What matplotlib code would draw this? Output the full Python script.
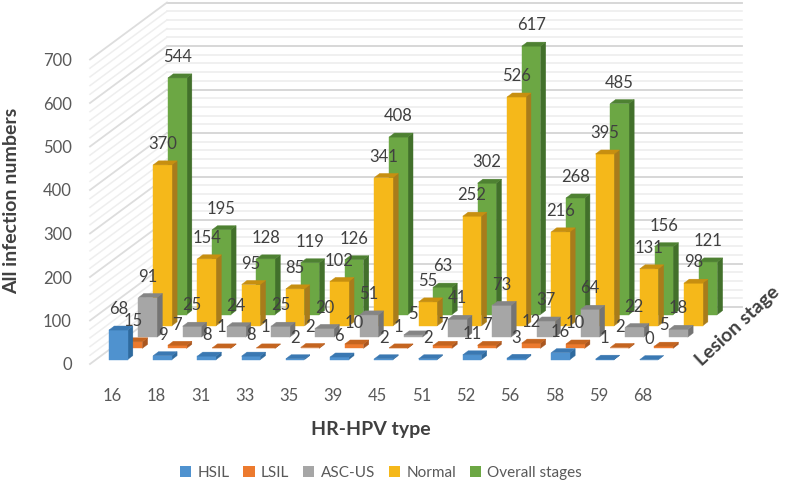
import matplotlib
matplotlib.use("Agg")
import matplotlib.pyplot as plt
import numpy as np
from matplotlib.patches import Patch, Polygon

plt.rcParams['font.family'] = ['Lato', 'DejaVu Sans']

# data
hpv_types = ['16', '18', '31', '33', '35', '39', '45', '51', '52', '56', '58', '59', '68']
hsil = [68, 9, 8, 8, 2, 6, 2, 2, 11, 3, 16, 1, 0]
lsil = [15, 7, 1, 1, 2, 10, 1, 7, 7, 12, 10, 2, 5]
asc_us = [91, 25, 24, 25, 20, 51, 5, 41, 73, 37, 64, 22, 18]
normal = [370, 154, 95, 85, 102, 341, 55, 252, 526, 216, 395, 131, 98]
overall = [544, 195, 128, 119, 126, 408, 63, 302, 617, 268, 485, 156, 121]

series_names = ['HSIL', 'LSIL', 'ASC-US', 'Normal', 'Overall stages']
series_values = [hsil, lsil, asc_us, normal, overall]
# front, side, top
series_colors = [('#4f92cf', '#2f6a9e', '#3a78b2'),
                 ('#ec7a2e', '#a9561f', '#c4641f'),
                 ('#a6a6a6', '#747474', '#858585'),
                 ('#f5b81a', '#a87c1b', '#c78f10'),
                 ('#6ca744', '#42702b', '#4e8132')]

# oblique projection, in axis units (categories / counts)
ROW_DX, ROW_DY = 0.3335, 25.9
WALL_DX, WALL_DY = 1.741, 131
ROW_START = 0.386
BAR_X0, BAR_W, BAR_D = 0.3, 0.42, 0.36


def project(cat, depth, value):
    return cat + depth * ROW_DX, value + depth * ROW_DY


fig = plt.figure(figsize=(7.87, 4.84), dpi=100)
ax = fig.add_axes([90 / 787, 1 - 364 / 484, 575 / 787, 304.5 / 484])
ax.set_xlim(0, 13)
ax.set_ylim(0, 700)
ax.patch.set_visible(False)
for s in ax.spines.values():
    s.set_visible(False)

# walls
for v in range(0, 701, 20):
    major = v % 100 == 0
    col = '#d4d4d4' if major else '#ececec'
    lw = 1.3 if major else 1.1
    ax.plot([WALL_DX, 13 + WALL_DX], [v + WALL_DY, v + WALL_DY], color=col, lw=lw,
            clip_on=False, zorder=1)
    ax.plot([0, WALL_DX], [v, v + WALL_DY], color='#dddddd' if major else '#eeeeee', lw=lw,
            clip_on=False, zorder=1)

# bars, back row first
for r in range(4, -1, -1):
    front, side, top = series_colors[r]
    for i, v in enumerate(series_values[r]):
        x0 = i + BAR_X0
        x1 = x0 + BAR_W
        d0 = ROW_START + r
        d1 = d0 + BAR_D
        z = 10 + (4 - r)
        ax.add_patch(Polygon([project(x1, d0, 0), project(x1, d1, 0), project(x1, d1, v), project(x1, d0, v)],
                             facecolor=side, edgecolor=side, lw=0.3, clip_on=False, zorder=z))
        ax.add_patch(Polygon([project(x0, d0, 0), project(x1, d0, 0), project(x1, d0, v), project(x0, d0, v)],
                             facecolor=front, edgecolor=front, lw=0.3, clip_on=False, zorder=z))
        ax.add_patch(Polygon([project(x0, d0, v), project(x1, d0, v), project(x1, d1, v), project(x0, d1, v)],
                             facecolor=top, edgecolor=top, lw=0.3, clip_on=False, zorder=z))

# value labels sit on top of everything
for r in range(5):
    for i, v in enumerate(series_values[r]):
        ax.annotate(str(v), project(i + BAR_X0 + BAR_W / 2, ROW_START + r, v), xytext=(0, 15),
                    textcoords='offset points', ha='center', va='center',
                    fontsize=12, color='#404040', zorder=30, annotation_clip=False)

# axes text
ax.set_xticks(np.arange(13) + 0.5, hpv_types)
ax.set_yticks(range(0, 701, 100))
ax.tick_params(axis='both', length=0, labelsize=12, labelcolor='#595959')
ax.tick_params(axis='x', pad=17)
ax.tick_params(axis='y', pad=13)

fig.text(12 / 787, 1 - 201 / 484, 'All infection numbers', rotation=90, ha='center', va='center',
         fontsize=14, fontweight='bold', color='#404040')
fig.text(371 / 787, 1 - 430 / 484, 'HR-HPV type', ha='center', va='center',
         fontsize=14, fontweight='bold', color='#404040')
fig.text(738 / 787, 1 - 326 / 484, 'Lesion stage', rotation=43, ha='center', va='center',
         fontsize=14, fontweight='bold', color='#404040', rotation_mode='anchor')

handles = [Patch(facecolor=c[0], label=n) for n, c in zip(series_names, series_colors)]
fig.legend(handles=handles, loc='center', bbox_to_anchor=(381 / 787, 1 - 473 / 484), ncol=5,
           frameon=False, fontsize=11, labelcolor='#595959', handlelength=0.75, handleheight=0.75,
           handletextpad=0.4, columnspacing=0.9, borderpad=0)

fig.savefig('out.png', dpi=100)
